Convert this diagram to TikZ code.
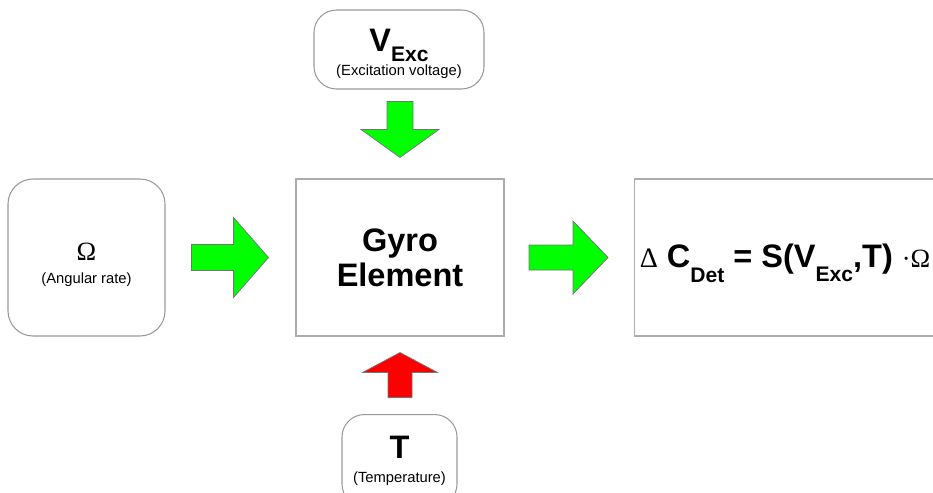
\documentclass[tikz,border=0pt]{standalone}
\usepackage{fontspec}
\setmainfont{Liberation Sans}
\newfontfamily\serifsym{Liberation Serif}

\definecolor{arrowgreen}{RGB}{0,255,0}
\definecolor{arrowred}{RGB}{255,0,0}

\newcommand{\bigtxt}{\bfseries\fontsize{18.5}{20}\selectfont}
\newcommand{\lowsub}[2]{\raisebox{#1}[0pt][0pt]{\fontsize{12}{12}\selectfont #2}}

\tikzset{
	roundbox/.style={draw=gray!80, line width=0.6pt, rounded corners=0.45cm, align=center, inner sep=0pt},
	plainbox/.style={draw=gray!65, line width=0.6pt, align=center, inner sep=0pt},
	blockarrow/.style={draw=black!55, line width=0.4pt, line join=miter}
}

\begin{document}
\begin{tikzpicture}
	\clip (0,0) rectangle (18.66,9.84);

	% inputs and the gyro element
	\node[roundbox, rounded corners=0.5cm, minimum width=3.14cm, minimum height=3.14cm, font=\fontsize{8.4}{13.6}\selectfont] (omega) at (1.73,4.69) {{\serifsym\fontsize{15}{15}\selectfont\rule{0pt}{0.64cm}Ω}\\(Angular rate)};
	\node[plainbox, minimum width=4.16cm, minimum height=3.14cm, font=\bigtxt] (gyro) at (8.00,4.69) {Gyro\\Element};
	\node[roundbox, minimum width=3.40cm, minimum height=1.58cm, font=\fontsize{8.4}{13.5}\selectfont] (vexc) at (7.98,8.85) {{\bigtxt\rule{0pt}{0.63cm}V\lowsub{-0.19cm}{Exc}}\\(Excitation voltage)};
	\node[roundbox, anchor=north, minimum width=2.30cm, minimum height=1.84cm, font=\fontsize{8.4}{13.6}\selectfont] (temp) at (7.99,1.56) {{\bigtxt T}\\(Temperature)};

	% output
	\node[plainbox, anchor=west, minimum width=7cm, minimum height=3.14cm] (eqbox) at (12.68,4.69) {};
	\node[anchor=base, font=\bigtxt] (eq) at (15.70,4.50) {{\mdseries\serifsym\fontsize{16}{16}\selectfont Δ} C\lowsub{-0.30cm}{Det} = S(V\lowsub{-0.28cm}{Exc},T) {\mdseries\serifsym\fontsize{15}{15}\selectfont ·Ω}};

	% block arrows
	\filldraw[blockarrow, fill=arrowgreen] ([xshift=-0.54cm]gyro.west) -- ++(-0.70,0.80) -- ++(0,-0.54) -- ++(-0.84,0) -- ++(0,-0.52) -- ++(0.84,0) -- ++(0,-0.54) -- cycle;
	\filldraw[blockarrow, fill=arrowgreen] ([xshift=-0.52cm]eqbox.west) -- ++(-0.70,0.73) -- ++(0,-0.48) -- ++(-0.88,0) -- ++(0,-0.50) -- ++(0.88,0) -- ++(0,-0.48) -- cycle;
	\filldraw[blockarrow, fill=arrowgreen] ([yshift=0.42cm]gyro.north) -- ++(0.78,0.56) -- ++(-0.52,0) -- ++(0,0.56) -- ++(-0.52,0) -- ++(0,-0.56) -- ++(-0.52,0) -- cycle;
	\filldraw[blockarrow, fill=arrowred] ([yshift=-0.32cm]gyro.south) -- ++(0.75,-0.40) -- ++(-0.51,0) -- ++(0,-0.50) -- ++(-0.48,0) -- ++(0,0.50) -- ++(-0.51,0) -- cycle;
\end{tikzpicture}
\end{document}
